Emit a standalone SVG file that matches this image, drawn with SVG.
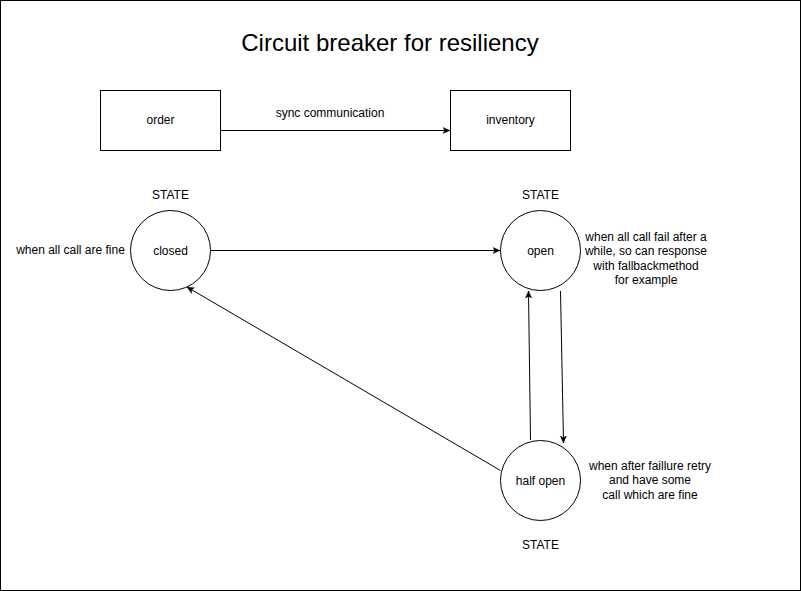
<svg xmlns="http://www.w3.org/2000/svg" width="801" height="591" viewBox="0 0 801 591">
<style>
text{font-family:"Liberation Sans",Arial,sans-serif;font-size:12px;fill:#000;text-anchor:middle}
.n{fill:#fff;stroke:#000;stroke-width:1}
.e{fill:none;stroke:#000;stroke-width:1}
</style>
<defs>
<marker id="a" viewBox="0 0 10 10" refX="9" refY="5" markerWidth="8" markerHeight="8" markerUnits="userSpaceOnUse" orient="auto">
<path d="M0,1 L9,5 L0,9 L2.5,5 Z" fill="#000" stroke="#000" stroke-width="0.5"/>
</marker>
</defs>
<rect x="0.5" y="0.5" width="800" height="590" fill="#fff" stroke="#000"/>
<text x="390" y="51" style="font-size:24px">Circuit breaker for resiliency</text>
<g id="connectors">
<line class="e" x1="220.5" y1="130.5" x2="450" y2="130.5" marker-end="url(#a)"/>
<line class="e" x1="210" y1="250.5" x2="500" y2="250.5" marker-end="url(#a)"/>
<line class="e" x1="560.5" y1="291" x2="563.5" y2="443" marker-end="url(#a)"/>
<line class="e" x1="530.5" y1="440" x2="528.5" y2="291" marker-end="url(#a)"/>
<line class="e" x1="500.5" y1="470.5" x2="187" y2="287" marker-end="url(#a)"/>
</g>
<text x="330" y="117">sync communication</text>
<g id="order"><rect class="n" x="100.5" y="90.5" width="120" height="60"/><text x="160.5" y="124">order</text></g>
<g id="inventory"><rect class="n" x="450.5" y="90.5" width="120" height="60"/><text x="510.5" y="124">inventory</text></g>
<g id="closed"><circle class="n" cx="170.5" cy="250.5" r="40"/><text x="170.5" y="254.5">closed</text></g>
<g id="open"><circle class="n" cx="540.5" cy="250.5" r="40"/><text x="540.5" y="254.5">open</text></g>
<g id="halfopen"><circle class="n" cx="540.5" cy="480.5" r="40"/><text x="540.5" y="484.5">half open</text></g>
<text x="170.5" y="199">STATE</text>
<text x="540.5" y="199">STATE</text>
<text x="540.5" y="549">STATE</text>
<text x="70.5" y="254">when all call are fine</text>
<text x="646"><tspan x="646" y="241">when all call fail after a</tspan><tspan x="646" y="255">while, so can response</tspan><tspan x="646" y="270">with fallbackmethod</tspan><tspan x="646" y="284">for example</tspan></text>
<text x="650"><tspan x="650" y="470">when after faillure retry</tspan><tspan x="650" y="484">and have some</tspan><tspan x="650" y="499">call which are fine</tspan></text>
</svg>
